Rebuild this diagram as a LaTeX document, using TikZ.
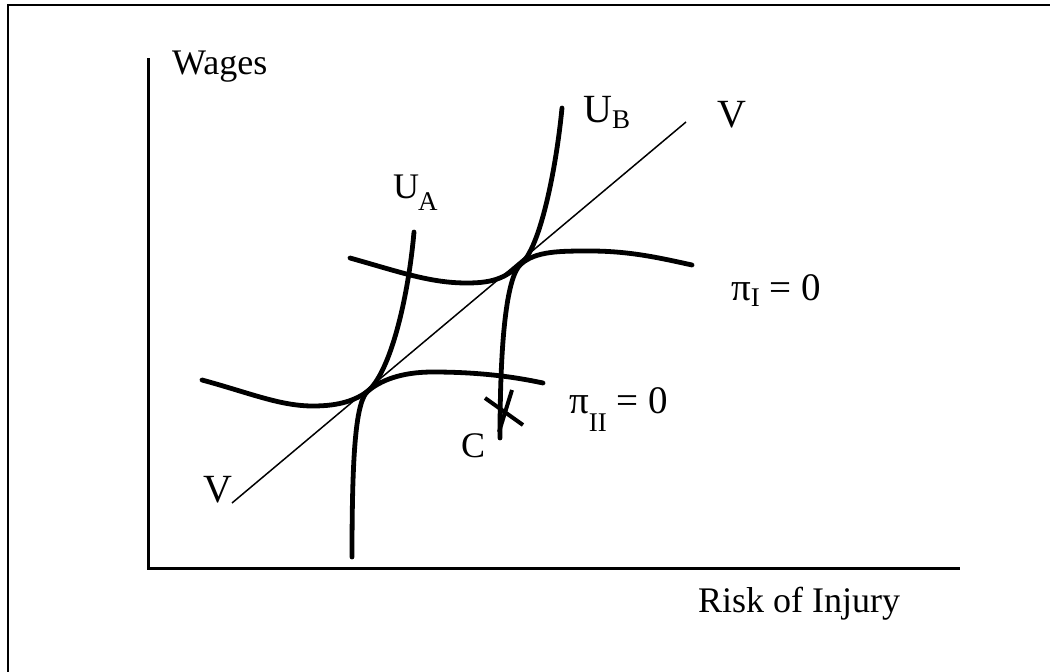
\documentclass[tikz,border=0pt]{standalone}
\usepackage{fontspec}
\setmainfont{Liberation Serif}
\begin{document}
\begin{tikzpicture}[x=1pt,y=-1pt,
  lbl/.style={inner sep=0pt,anchor=base west,font=\fontsize{36}{40}\selectfont},
  big/.style={inner sep=0pt,anchor=base west,font=\fontsize{40}{44}\selectfont},
  pil/.style={inner sep=0pt,anchor=base west,font=\fontsize{39}{42}\selectfont},
  sub/.style={inner sep=0pt,anchor=base west,font=\fontsize{27}{30}\selectfont},
  curve/.style={line width=4.8pt,line cap=round},
  axis/.style={line width=3pt},
  ray/.style={line width=1.5pt}]
\useasboundingbox (0,0) rectangle (1050,672);
% frame
\draw[line width=2pt] (8,672) -- (8,5) -- (1050,5);
% axes
\coordinate (ytop) at (148,58);
\coordinate (orig) at (148,568);
\coordinate (xend) at (960,568);
\draw[axis] (ytop) -- (orig) -- (xend);
\node[lbl] (wages) at (172,74) {Wages};
\node[lbl] (risk) at (698,612) {Risk of Injury};
% V line
\coordinate (v1) at (232,503);
\coordinate (v2) at (686,122);
\draw[ray] (v1) -- (v2);
\node[big] (vlo) at (203,502) {V};
\node[big] (vhi) at (717,127) {V};
% tangency points
\coordinate (tA) at (368,391);
\coordinate (tB) at (521,264);
% pi_I
\draw[curve] (350,258) .. controls (400,272) and (430,283) .. (467,283)
  .. controls (495,283) and (506,277) .. (tB)
  .. controls (536,251) and (560,251) .. (590,251)
  .. controls (630,251) and (660,258) .. (692,265);
% pi_II
\draw[curve] (202,380) .. controls (250,393) and (280,406) .. (313,406)
  .. controls (340,406) and (356,400) .. (tA)
  .. controls (380,381) and (400,372) .. (433,372)
  .. controls (480,372) and (515,377) .. (543,383);
% U_A
\draw[curve] (352,557) .. controls (352,450) and (356,401) .. (tA)
  .. controls (390,372) and (408,300) .. (414,232);
% U_B
\draw[curve] (500,438) .. controls (500,330) and (508,275) .. (tB)
  .. controls (540,248) and (556,170) .. (562,108);
% X at C
\draw[line width=4pt] (485,398) -- (523,425);
\draw[line width=4pt] (512,390) -- (499,432);
% labels
\node[lbl] (ua) at (393,198) {U};
\node[sub] (uasub) at (418,210) {A};
\node[big] (ub) at (583,122) {U};
\node[sub] (ubsub) at (612,128) {B};
\node[pil] (piI) at (731,300) {π\raisebox{-6pt}{\fontsize{27}{28}\selectfont I} = 0};
\node[pil] (piII) at (569,413) {π\raisebox{-18pt}{\fontsize{27}{28}\selectfont II} = 0};
\node[lbl] (c) at (461,457) {C};
\end{tikzpicture}
\end{document}
